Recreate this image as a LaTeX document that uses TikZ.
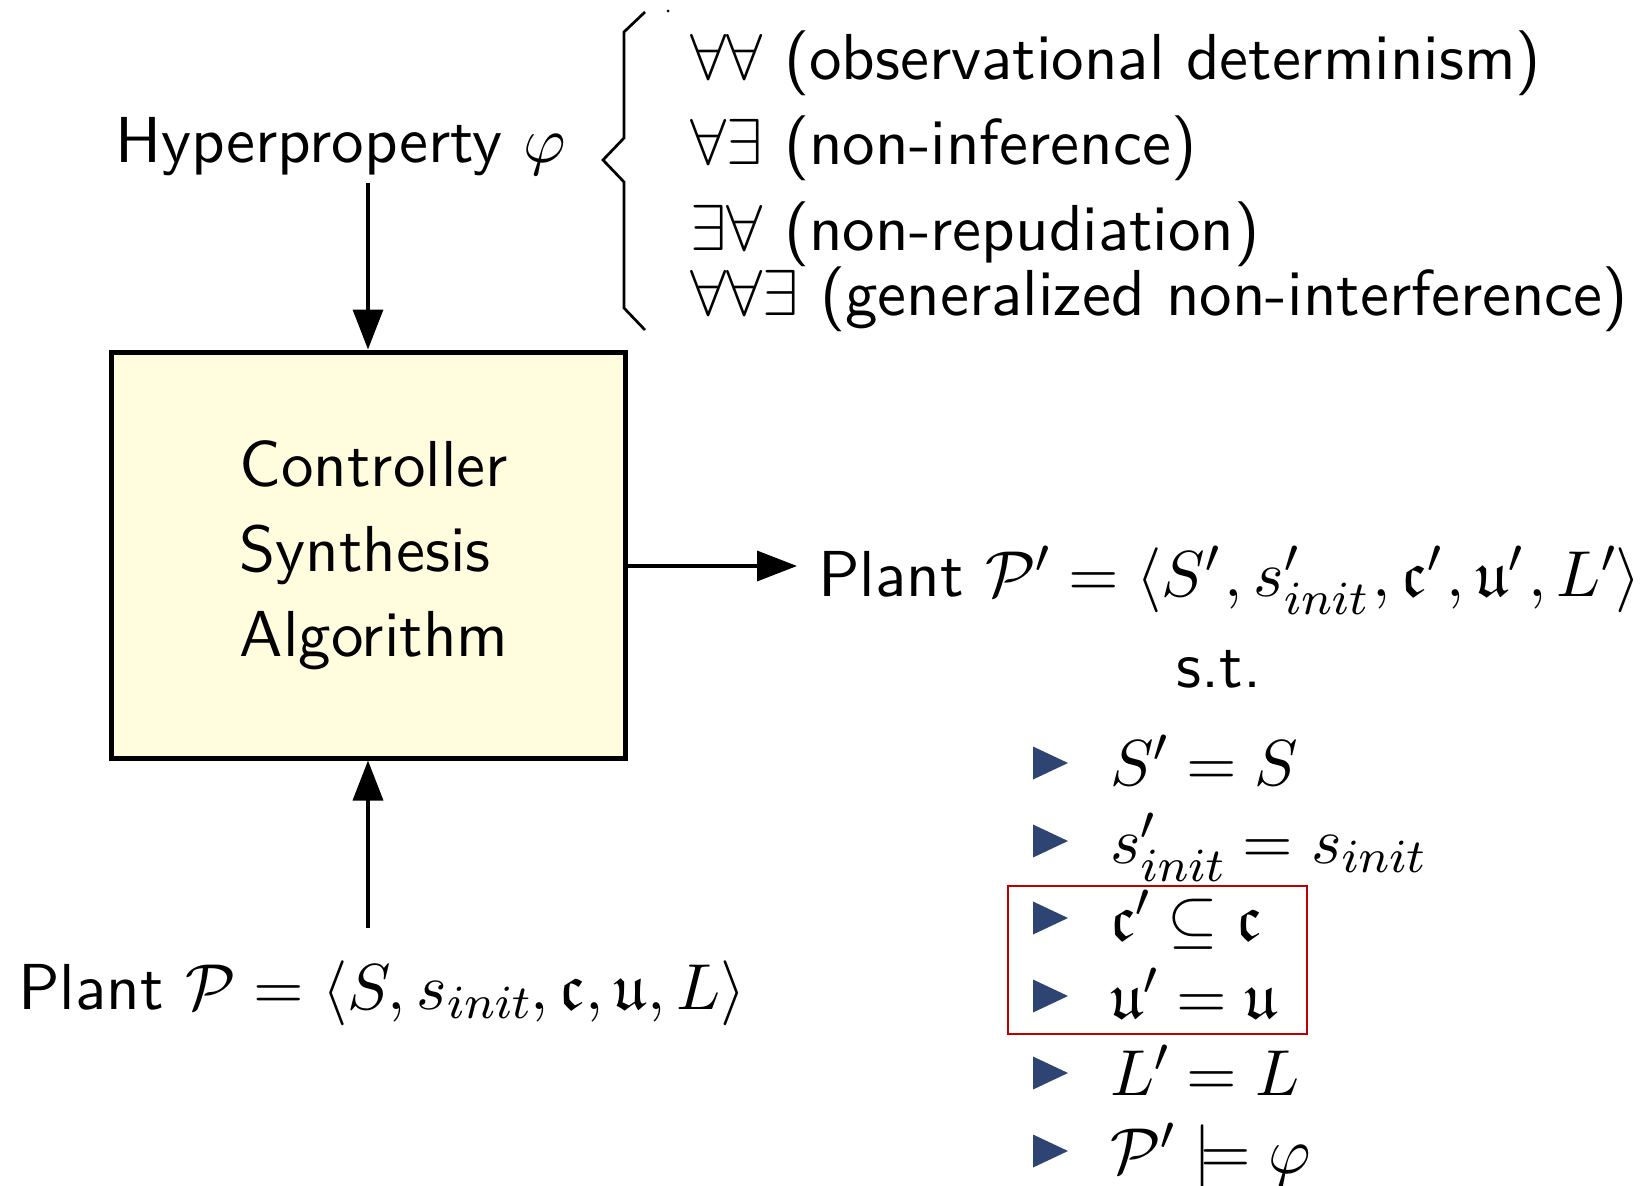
\documentclass[tikz,border=0pt]{standalone}
\usepackage{fix-cm}
\usepackage{fontspec}
\setsansfont{lmsans10-regular.otf}
\usepackage{amssymb}
\usetikzlibrary{arrows.meta}
% maths set from the 10pt/8pt design sizes, scaled up
\DeclareFontShape{OML}{cmm}{m}{it}{<-55>cmmi8 <55->cmmi10}{\skewchar\font'177}
\DeclareFontShape{OMS}{cmsy}{m}{n}{<-55>cmsy8 <55->cmsy10}{\skewchar\font'60}
\DeclareFontShape{OT1}{cmr}{m}{n}{<-55>cmr8 <55->cmr10}{}
\DeclareMathSizes{65}{65}{47.5}{35.6}
% scalable Euler Fraktur for \mathfrak at large sizes
\DeclareFontFamily{U}{euf}{}
\DeclareFontShape{U}{euf}{m}{n}{<->eufm10}{}
\DeclareFontShape{U}{euf}{b}{n}{<->eufb10}{}
\renewcommand\familydefault{\sfdefault}
\newcommand\pgap{\mkern1.4mu}
\definecolor{boxfill}{RGB}{255,253,222}
\definecolor{bulletblue}{RGB}{46,69,115}
\definecolor{hlred}{RGB}{192,0,0}
\begin{document}
\begin{tikzpicture}[x=1pt,y=-1pt,
  every node/.style={font=\fontsize{65}{85}\selectfont, inner sep=0pt},
  conn/.style={line width=3.5pt, -{Triangle[length=40pt,width=30pt]}},
  algbox/.style={draw, line width=5pt, fill=boxfill, minimum width=514pt,
    minimum height=406pt},
  txt/.style={anchor=base west},
  hlbox/.style={draw=hlred, line width=2.7pt, minimum width=299pt, minimum height=148pt}]
\useasboundingbox (0,0) rectangle (1645,1185);

% inputs, algorithm block and output
\node[txt] (hyp) at (115,163) {Hyperproperty $\varphi$};
\node[algbox] (alg) at (368,555) {};
\node[align=left] (algtxt) at (374,555) {Controller\\Synthesis\\Algorithm};
\node[txt] (plant) at (18,1009) {Plant $\mathcal{P} = \langle S, s_{init}, \mathfrak{c}, \mathfrak{u}, L\rangle$};
\node[txt] (plantp) at (818,596) {Plant $\mathcal{P}' = \langle S'\pgap, s'_{init}\pgap, \mathfrak{c}'\pgap, \mathfrak{u}'\pgap, L'\rangle$};
\node[anchor=base] (st) at (1219,687) {s.t.};

\coordinate (hin) at (368,183);
\coordinate (pin) at (368,928);
\coordinate (outtip) at (797,566);
\draw[conn] (hin) -- (hin |- alg.north);
\draw[conn] (pin) -- (pin |- alg.south);
\draw[conn] (alg.east |- outtip) -- (outtip);

% classes of hyperproperties
\draw[line width=2.7pt, line join=miter] (645,12) -- (624,32) -- (624,138) -- (603,160)
  -- (624,182) -- (624,308) -- (645,330);
\fill (668,11) circle (1.5);
\node[txt] (q1) at (690,80) {$\forall\forall$ (observational determinism)};
\node[txt] (q2) at (690,165) {$\forall\exists$ (non-inference)};
\node[txt] (q3) at (690,250) {$\exists\forall$ (non-repudiation)};
\node[txt] (q4) at (690,315) {$\forall\forall\exists$ (generalized non-interference)};

% conditions on the synthesized plant
\foreach \y in {763,841,918,996,1073,1151}
  \fill[bulletblue] (1033,{\y-16.5}) -- (1068,\y) -- (1033,{\y+16.5}) -- cycle;
\node[txt] (c1) at (1110,785) {$S' = S$};
\node[txt] (c2) at (1110,863) {$s'_{init} = s_{init}$};
\node[txt] (c3) at (1110,940) {$\mathfrak{c}' \subseteq \mathfrak{c}$};
\node[txt] (c4) at (1110,1018) {$\mathfrak{u}' = \mathfrak{u}$};
\node[txt] (c5) at (1110,1095) {$L' = L$};
\node[txt] (c6) at (1110,1173) {$\mathcal{P}' \models \varphi$};
\node[hlbox] (hl) at (1157.5,960) {};
\end{tikzpicture}
\end{document}
